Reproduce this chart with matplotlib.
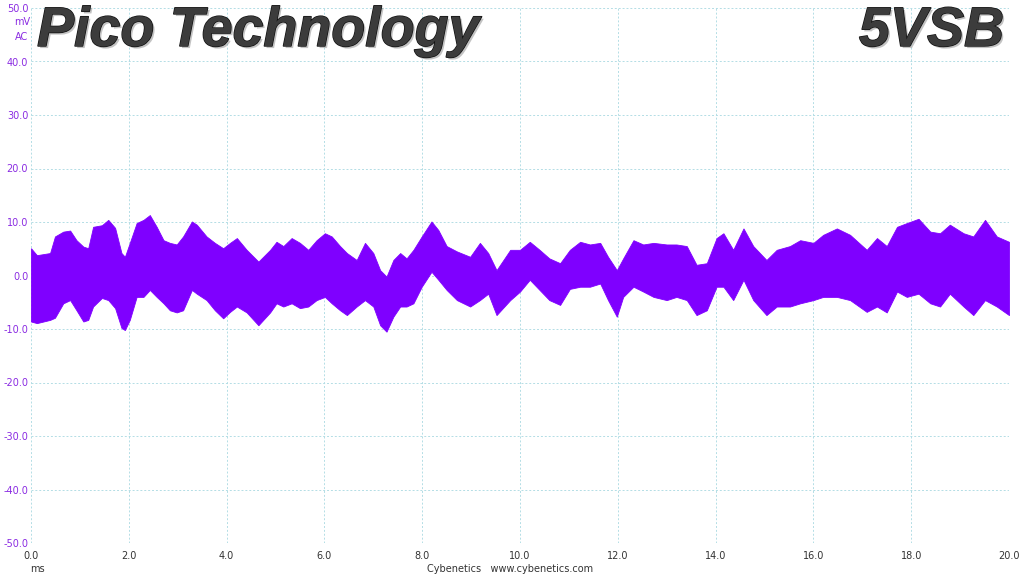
import matplotlib
matplotlib.use('Agg')
from matplotlib import pyplot as plt
import matplotlib.patheffects as pe
import numpy as np

# envelope of the ripple trace (ms, mV)
t_ms = [0.0, 0.12, 0.39, 0.49, 0.66, 0.8, 0.93, 1.07, 1.17, 1.27, 1.45, 1.58, 1.72, 1.85, 1.92,
        2.02, 2.16, 2.30, 2.43, 2.57, 2.71, 2.84, 2.98, 3.11, 3.29, 3.39, 3.59, 3.76, 3.93, 4.07,
        4.21, 4.41, 4.65, 4.89, 5.02, 5.16, 5.33, 5.5, 5.67, 5.84, 6.01, 6.15, 6.32, 6.46, 6.66,
        6.83, 7.0, 7.14, 7.27, 7.41, 7.55, 7.68, 7.82, 7.99, 8.19, 8.33, 8.5, 8.71, 8.98, 9.18,
        9.35, 9.52, 9.8, 10.0, 10.2, 10.4, 10.6, 10.82, 11.02, 11.23, 11.43, 11.64, 11.8, 11.98,
        12.11, 12.32, 12.52, 12.73, 13.0, 13.2, 13.41, 13.61, 13.82, 14.02, 14.16, 14.36, 14.57,
        14.77, 15.04, 15.25, 15.52, 15.73, 16.0, 16.2, 16.48, 16.75, 17.09, 17.3, 17.5, 17.71,
        17.91, 18.15, 18.39, 18.59, 18.79, 19.07, 19.27, 19.51, 19.75, 20.0]
upper = [5.1, 3.8, 4.2, 7.3, 8.2, 8.4, 6.6, 5.4, 5.1, 9.1, 9.4, 10.4, 8.9, 4.2, 3.5,
         6.1, 9.8, 10.4, 11.3, 9.1, 6.6, 6.1, 5.8, 7.3, 10.1, 9.5, 7.3, 6.1, 5.1, 6.1,
         7.0, 4.8, 2.6, 4.8, 6.3, 5.5, 7.0, 6.1, 4.8, 6.6, 7.9, 7.3, 5.5, 4.2, 2.9,
         6.1, 4.2, 1.0, -0.2, 2.9, 4.2, 3.2, 4.8, 7.3, 10.1, 8.5, 5.5, 4.5, 3.5, 6.1,
         4.2, 1.0, 4.8, 4.8, 6.3, 4.8, 3.2, 2.3, 4.8, 6.3, 5.8, 6.1, 3.5, 1.0,
         3.2, 6.6, 5.8, 6.1, 5.8, 5.8, 5.5, 2.0, 2.3, 7.0, 7.9, 4.8, 8.8,
         5.5, 2.9, 4.8, 5.5, 6.6, 6.1, 7.6, 8.8, 7.6, 4.8, 7.0, 5.5, 9.1,
         9.8, 10.6, 8.2, 7.9, 9.5, 7.9, 7.3, 10.4, 7.3, 6.3]
lower = [-8.6, -8.9, -8.3, -7.9, -5.2, -4.6, -6.5, -8.6, -8.3, -5.8, -4.2, -4.6, -6.1, -9.8, -10.2,
         -8.3, -4.0, -4.0, -2.7, -4.0, -5.2, -6.5, -6.9, -6.5, -2.7, -3.4, -4.6, -6.5, -8.0, -6.8,
         -5.8, -6.9, -9.3, -6.9, -5.2, -5.8, -5.2, -6.1, -5.8, -4.6, -4.0, -5.2, -6.5, -7.4, -5.8,
         -4.6, -5.8, -9.3, -10.5, -7.7, -5.8, -5.8, -5.2, -2.1, 0.7, -0.8, -2.7, -4.6, -5.8, -4.6,
         -3.4, -7.4, -4.6, -3.0, -0.8, -2.7, -4.6, -5.5, -2.5, -2.1, -2.1, -1.5, -4.6, -7.7,
         -4.0, -2.1, -3.0, -4.0, -4.6, -4.0, -4.6, -7.4, -6.5, -2.1, -2.1, -4.6, -0.8,
         -4.6, -7.4, -5.8, -5.8, -5.2, -4.6, -4.0, -4.0, -4.6, -6.8, -5.8, -6.9, -3.0,
         -4.0, -3.4, -5.2, -5.8, -3.4, -5.8, -7.4, -4.6, -5.8, -7.4]

x_ticks = np.arange(0, 21, 2)
y_ticks = np.arange(-50, 51, 10)


def main():
    fig = plt.figure(figsize=(10.24, 5.76), dpi=100)
    ax = fig.add_axes([31 / 1024, 33 / 576, 978 / 1024, 535 / 576])

    ax.fill_between(t_ms, lower, upper, color='#7f00ff', lw=0.6, edgecolor='#7f00ff')

    ax.set_xlim(0, 20)
    ax.set_ylim(-50, 50)
    ax.set_xticks(x_ticks)
    ax.set_xticklabels(['%.1f' % v for v in x_ticks])
    ax.set_yticks(y_ticks)
    ax.set_yticklabels(['%.1f' % v for v in y_ticks])
    ax.tick_params(axis='y', colors='#8a2be2', labelsize=7, length=0, pad=2)
    ax.tick_params(axis='x', colors='#333333', labelsize=7, length=0, pad=6)
    ax.grid(True, color='#b3dde5', linestyle=(0, (2, 2)), lw=0.7)
    ax.set_axisbelow(True)
    for s in ax.spines.values():
        s.set_visible(False)
    # right edge grid line
    ax.axvline(20, color='#b3dde5', linestyle=(0, (2, 2)), lw=0.7, zorder=0)

    fig.text(22 / 1024, 1 - 22 / 576, 'mV', color='#8a2be2', fontsize=7, ha='center', va='center')
    fig.text(22 / 1024, 1 - 37 / 576, 'AC', color='#8a2be2', fontsize=7, ha='center', va='center')
    fig.text(37 / 1024, 1 - 569 / 576, 'ms', color='#333333', fontsize=7, ha='center', va='center')
    fig.text(510 / 1024, 1 - 569 / 576, 'Cybenetics   www.cybenetics.com', color='#333333',
             fontsize=7, ha='center', va='center')

    fx = [pe.SimplePatchShadow(offset=(1.5, -1.5), shadow_rgbFace='#888888', alpha=0.5),
          pe.withStroke(linewidth=1, foreground='#111111')]
    fig.text(37 / 1024, 1 - 32 / 576, 'Pico Technology', family='Liberation Sans', weight='bold',
             style='italic', fontsize=40, color='#3c3c3c', ha='left', va='center', path_effects=fx)
    fig.text(1004 / 1024, 1 - 32 / 576, '5VSB', family='Liberation Sans', weight='bold',
             style='italic', fontsize=40, color='#3c3c3c', ha='right', va='center', path_effects=fx)

    plt.savefig('out.png', dpi=100)


if __name__ == '__main__':
    main()
